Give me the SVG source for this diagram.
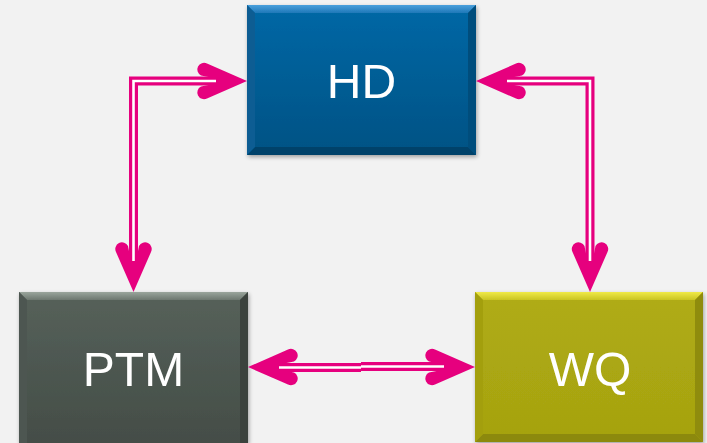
<svg xmlns="http://www.w3.org/2000/svg" width="707" height="443" viewBox="0 0 707 443">
  <defs>
    <style>
      .label { font-family: "Liberation Sans", Arial, sans-serif; font-size: 48px; fill: #ffffff; text-anchor: middle; }
      .wire { fill: none; stroke: #e6007e; stroke-width: 9; stroke-linejoin: miter; }
      .core { fill: none; stroke: #ffffff; stroke-width: 2.6; }
      .head { fill: #e6007e; }
    </style>
    <linearGradient id="gHD" x1="0" y1="0" x2="0" y2="1">
      <stop offset="0" stop-color="#0668a6"/>
      <stop offset="1" stop-color="#035284"/>
    </linearGradient>
    <linearGradient id="gPTM" x1="0" y1="0" x2="0" y2="1">
      <stop offset="0" stop-color="#56615a"/>
      <stop offset="1" stop-color="#444d47"/>
    </linearGradient>
    <linearGradient id="gWQ" x1="0" y1="0" x2="0" y2="1">
      <stop offset="0" stop-color="#b0ac14"/>
      <stop offset="1" stop-color="#a5a210"/>
    </linearGradient>
    <linearGradient id="bevHD" x1="0" y1="0" x2="0" y2="1">
      <stop offset="0" stop-color="#4aa0dc"/>
      <stop offset="1" stop-color="#1f78b8"/>
    </linearGradient>
    <linearGradient id="bevPTM" x1="0" y1="0" x2="0" y2="1">
      <stop offset="0" stop-color="#9aa59c"/>
      <stop offset="1" stop-color="#6c776f"/>
    </linearGradient>
    <linearGradient id="bevWQ" x1="0" y1="0" x2="0" y2="1">
      <stop offset="0" stop-color="#f0ea48"/>
      <stop offset="1" stop-color="#c9c422"/>
    </linearGradient>
    <filter id="shadow" x="-10%" y="-10%" width="120%" height="125%">
      <feGaussianBlur in="SourceAlpha" stdDeviation="2"/>
      <feOffset dx="1" dy="2" result="b"/>
      <feComponentTransfer><feFuncA type="linear" slope="0.35"/></feComponentTransfer>
      <feMerge><feMergeNode/><feMergeNode in="SourceGraphic"/></feMerge>
    </filter>
    <!-- arrowhead pointing right, tip at origin -->
    <path id="ah" d="M0,0 L-40,-17.5 A6.4,6.4 0 0 0 -46,-5.5 L-31,-2.5 L-31,2.5 L-46,5.5 A6.4,6.4 0 0 0 -40,17.5 Z"/>
  </defs>

  <rect width="707" height="443" fill="#f2f2f2"/>

  <!-- nodes -->
  <g id="node-HD" filter="url(#shadow)">
    <rect x="247" y="5" width="229" height="150" fill="url(#gHD)"/>
    <polygon points="247,5 476,5 468,13 255,13" fill="url(#bevHD)"/>
    <polygon points="247,155 476,155 468,147 255,147" fill="#02426b"/>
    <polygon points="247,5 255,13 255,147 247,155" fill="#0a5d93"/>
    <polygon points="476,5 468,13 468,147 476,155" fill="#034d7c"/>
    <text class="label" font-family="Liberation Sans, Arial, sans-serif" x="361.5" y="98">HD</text>
  </g>

  <g id="node-PTM" filter="url(#shadow)">
    <rect x="19" y="292" width="229" height="151" fill="url(#gPTM)"/>
    <polygon points="19,292 248,292 240,300 27,300" fill="url(#bevPTM)"/>
    <polygon points="19,292 27,300 27,443 19,443" fill="#4d5751"/>
    <polygon points="248,292 240,300 240,443 248,443" fill="#3a423d"/>
    <text class="label" font-family="Liberation Sans, Arial, sans-serif" x="133.5" y="386">PTM</text>
  </g>

  <g id="node-WQ" filter="url(#shadow)">
    <rect x="475" y="292" width="228" height="150" fill="url(#gWQ)"/>
    <polygon points="475,292 703,292 695,300 483,300" fill="url(#bevWQ)"/>
    <polygon points="475,442 703,442 695,434 483,434" fill="#8c8908"/>
    <polygon points="475,292 483,300 483,434 475,442" fill="#a39f0e"/>
    <polygon points="703,292 695,300 695,434 703,442" fill="#8f8c09"/>
    <text class="label" font-family="Liberation Sans, Arial, sans-serif" x="590" y="386">WQ</text>
  </g>

  <!-- connectors -->
  <g id="connectors">
    <!-- HD <-> PTM -->
    <path class="wire" d="M220,81 H133.5 V264"/>
    <path class="core" d="M220,81 H133.5 V264"/>
    <use href="#ah" class="head" transform="translate(247,81)"/>
    <use href="#ah" class="head" transform="translate(133.5,292) rotate(90)"/>

    <!-- HD <-> WQ -->
    <path class="wire" d="M503,81 H590 V264"/>
    <path class="core" d="M503,81 H590 V264"/>
    <use href="#ah" class="head" transform="translate(476,81) rotate(180)"/>
    <use href="#ah" class="head" transform="translate(590,292) rotate(90)"/>

    <!-- PTM <-> WQ -->
    <path class="wire" d="M276,367.5 H361"/>
    <path class="wire" d="M361,366.5 H447"/>
    <path class="core" d="M276,367.5 H361"/>
    <path class="core" d="M361,366.5 H447"/>
    <use href="#ah" class="head" transform="translate(248,367) rotate(180)"/>
    <use href="#ah" class="head" transform="translate(475,367)"/>
  </g>
</svg>
